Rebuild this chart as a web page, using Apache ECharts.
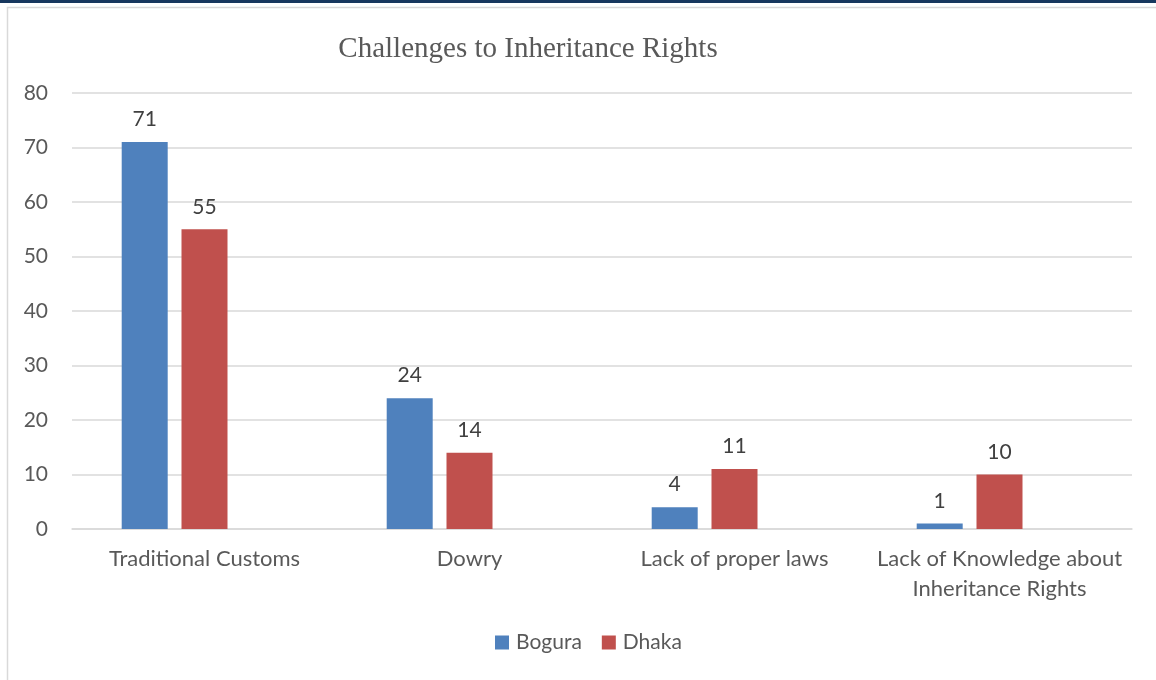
<!DOCTYPE html>
<html><head><meta charset="utf-8">
<script src="https://cdn.jsdelivr.net/npm/echarts@6/dist/echarts.min.js"></script>
<style>html,body{margin:0;padding:0;background:#fff}#c{width:1156px;height:680px}</style>
</head><body><div id="c"></div>
<script>
const categories = ['Traditional Customs', 'Dowry', 'Lack of proper laws', 'Lack of Knowledge about\nInheritance Rights'];
const bogura = [71, 24, 4, 1];
const dhaka = [55, 14, 11, 10];
const yTicks = [0, 10, 20, 30, 40, 50, 60, 70, 80];

const chart = echarts.init(document.getElementById('c'));
const labelStyle = {show: true, position: 'top', distance: 12, color: '#404040', fontSize: 21, fontFamily: 'Lato'};
chart.setOption({
  animation: false,
  graphic: [
    {type: 'rect', shape: {x: 0, y: 0, width: 1156, height: 3}, style: {fill: '#17375e'}},
    {type: 'rect', shape: {x: 7.5, y: 7.5, width: 1160, height: 700}, style: {fill: 'none', stroke: '#d9d9d9', lineWidth: 1.5}}
  ],
  title: {
    text: 'Challenges to Inheritance Rights', left: 523, top: 30, textAlign: 'center',
    textStyle: {fontFamily: 'Liberation Serif', fontWeight: 'normal', fontSize: 29, color: '#595959'}
  },
  legend: {
    data: ['Bogura', 'Dhaka'], top: 627, left: 490,
    itemWidth: 14, itemHeight: 14, itemGap: 20, icon: 'rect',
    textStyle: {fontFamily: 'Lato', fontSize: 21, color: '#595959', padding: [0, 0, 0, 2]}
  },
  grid: {left: 72, right: 24, top: 93, bottom: 151, containLabel: false},
  xAxis: {
    type: 'category', data: categories,
    axisLine: {lineStyle: {color: '#d9d9d9', width: 1.5}},
    axisTick: {show: false},
    axisLabel: {color: '#595959', fontFamily: 'Lato', fontSize: 22, margin: 15, lineHeight: 30, interval: 0}
  },
  yAxis: {
    type: 'value', min: 0, max: 80, interval: 10,
    axisLine: {show: false}, axisTick: {show: false},
    splitLine: {lineStyle: {color: '#d9d9d9', width: 1.5}},
    axisLabel: {color: '#595959', fontFamily: 'Lato', fontSize: 21, margin: 24,
      formatter: v => yTicks.includes(v) ? String(v) : ''}
  },
  series: [
    {name: 'Bogura', type: 'bar', data: bogura, barWidth: 46, barGap: '30%', itemStyle: {color: '#4f81bd'}, label: labelStyle},
    {name: 'Dhaka', type: 'bar', data: dhaka, barWidth: 46, barGap: '30%', itemStyle: {color: '#c0504d'}, label: labelStyle},
    {name: 'spacer', type: 'bar', data: [null, null, null, null], barWidth: 46, barGap: '30%'}
  ]
});
</script></body></html>
